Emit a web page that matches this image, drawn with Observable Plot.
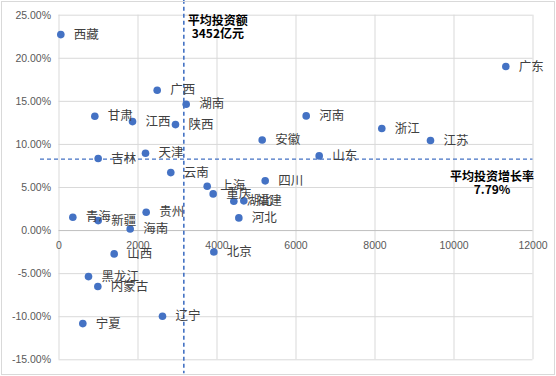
<!DOCTYPE html>
<html>
<head>
<meta charset="utf-8">
<script src="https://cdn.jsdelivr.net/npm/d3@7"></script>
<script src="https://cdn.jsdelivr.net/npm/@observablehq/plot@0.6"></script>
<style>
  body { margin: 0; background: #fff; }
  #chart svg { display: block; outline: 1px solid #d9d9d9; outline-offset: -2px; }
</style>
</head>
<body>
<div id="chart"></div>
<script>
const provinces = ["西藏","广西","湖南","甘肃","江西","陕西","安徽","吉林","天津","云南","上海","四川","广东","河南","浙江","江苏","山东","重庆","湖北","福建","河北","青海","新疆","贵州","海南","山西","北京","黑龙江","内蒙古","宁夏","辽宁"];
const invest = [46, 2486, 3220, 907, 1861, 2949, 5144, 992, 2190, 2830, 3752, 5220, 11312, 6258, 8172, 9405, 6587, 3903, 4426, 4679, 4553, 350, 992, 2207, 1802, 1397, 3920, 747, 983, 603, 2620];
const growth = [22.75, 16.29, 14.66, 13.27, 12.65, 12.30, 10.52, 8.36, 8.97, 6.73, 5.14, 5.77, 19.04, 13.31, 11.84, 10.45, 8.67, 4.26, 3.40, 3.45, 1.47, 1.55, 1.16, 2.13, 0.19, -2.71, -2.48, -5.34, -6.50, -10.80, -9.94];

const xTicks = [0, 2000, 4000, 6000, 8000, 10000, 12000];
const yTicks = [-15, -10, -5, 0, 5, 10, 15, 20, 25];

const avgInvest = 3160;      // position of the dashed vertical line
const avgGrowth = 8.3;       // position of the dashed horizontal line
const avgInvestLabel = "平均投资额\n3452亿元";
const avgGrowthLabel = "平均投资增长率\n7.79%";

const data = provinces.map((p, i) => ({name: p, x: invest[i], y: growth[i]}));

const blue = "#4472C4";
const grid = "#d9d9d9";

const chart = Plot.plot({
  width: 556,
  height: 376,
  marginLeft: 58.5,
  marginRight: 23.5,
  marginTop: 14.7,
  marginBottom: 16.7,
  style: {fontFamily: "'Noto Sans CJK SC', 'Noto Sans', sans-serif", background: "white"},
  x: {domain: [0, 12000], label: null, axis: null},
  y: {domain: [-15, 25], label: null},
  marks: [
    Plot.ruleX(xTicks, {stroke: grid, strokeWidth: 1}),
    Plot.ruleY(yTicks.filter(d => d !== 0), {stroke: grid, strokeWidth: 1}),
    Plot.ruleY([0], {stroke: "#bfbfbf", strokeWidth: 1}),
    Plot.axisY({ticks: yTicks, label: null, tickSize: 0, tickPadding: 8, tickFormat: d => d.toFixed(2) + "%", fontSize: 10.5, fill: "#595959", fontFamily: "'Liberation Sans', sans-serif"}),
    Plot.text(xTicks, {x: d => d, y: () => 0, text: d => String(d), dy: 15, fontSize: 10.5, fill: "#595959", fontFamily: "'Liberation Sans', sans-serif"}),
    Plot.ruleX([avgInvest], {stroke: blue, strokeWidth: 1.6, strokeDasharray: "4,3", insetTop: -15, insetBottom: -14}),
    Plot.ruleY([avgGrowth], {stroke: blue, strokeWidth: 1.3, strokeDasharray: "4,3", insetLeft: -18.5}),
    Plot.dot(data, {x: "x", y: "y", r: 3.8, fill: blue, stroke: "none"}),
    Plot.text(data, {x: "x", y: "y", text: "name", textAnchor: "start", dx: 13, fontSize: 12.5, fill: "#404040"}),
    Plot.text([avgInvestLabel], {x: () => avgInvest, frameAnchor: "top", text: d => d, lineAnchor: "top", dx: 34, dy: 1, fontSize: 12, fontWeight: "bold", fill: "#000", lineHeight: 1.05}),
    Plot.text([avgGrowthLabel], {y: () => avgGrowth, frameAnchor: "right", text: d => d, textAnchor: "middle", dx: -41, dy: 24, fontSize: 12, fontWeight: "bold", fill: "#000", lineHeight: 1.15})
  ]
});

document.getElementById("chart").appendChild(chart);
</script>
</body>
</html>
